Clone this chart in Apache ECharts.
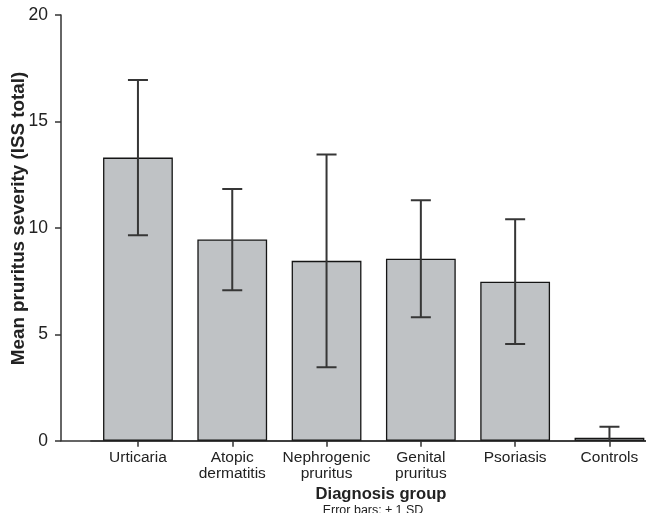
<!DOCTYPE html>
<html>
<head>
<meta charset="utf-8">
<script src="https://cdn.jsdelivr.net/npm/echarts@6/dist/echarts.min.js"></script>
<style>
html,body{margin:0;padding:0;background:#fff;}
#chart{width:646px;height:513px;}
</style>
</head>
<body>
<div id="chart"></div>
<script>
const categories = ['Urticaria', 'Atopic\ndermatitis', 'Nephrogenic\npruritus', 'Genital\npruritus', 'Psoriasis', 'Controls'];
const means = [13.3, 9.45, 8.45, 8.55, 7.47, 0.14];
const sds = [3.65, 2.38, 5.0, 2.75, 2.93, 0.52];
const yTicks = { min: 0, max: 20, interval: 5 };

const FONT = '"Liberation Sans", Arial, sans-serif';
const TEXT = '#222';
const AXIS = '#333';

const errData = means.map((m, i) => [i, m, sds[i]]);

const chart = echarts.init(document.getElementById('chart'), null, { renderer: 'canvas' });
chart.setOption({
  animation: false,
  backgroundColor: '#fff',
  textStyle: { fontFamily: FONT },
  grid: [
    { left: 90.8, right: -10.6, top: 15, bottom: 72.3, containLabel: false, outerBoundsMode: 'none' },
    { left: 61, right: 0, top: 15, bottom: 72.3, containLabel: false, outerBoundsMode: 'none' }
  ],
  xAxis: [
    {
      type: 'category', gridIndex: 0, data: categories,
      axisLine: { show: true, lineStyle: { color: AXIS, width: 1.5 } },
      axisTick: { show: true, alignWithLabel: true, interval: 0, length: 6, lineStyle: { color: AXIS, width: 1.5 } },
      axisLabel: { interval: 0, color: TEXT, fontSize: 15.5, fontFamily: FONT, margin: 9, lineHeight: 16 },
      splitLine: { show: false }
    },
    {
      type: 'value', gridIndex: 1, min: 0, max: 1,
      axisLine: { show: true, onZero: false, lineStyle: { color: AXIS, width: 1.5 } },
      axisTick: { show: false }, axisLabel: { show: false }, splitLine: { show: false }
    }
  ],
  yAxis: [
    {
      type: 'value', gridIndex: 0, min: yTicks.min, max: yTicks.max, interval: yTicks.interval,
      offset: 29.8,
      axisLine: { show: true, lineStyle: { color: AXIS, width: 1.5 } },
      axisTick: { show: true, length: 6, lineStyle: { color: AXIS, width: 1.5 } },
      axisLabel: { color: TEXT, fontSize: 17.5, fontFamily: FONT, margin: 13 },
      splitLine: { show: false }
    },
    { type: 'value', gridIndex: 1, show: false, min: 0, max: 1 }
  ],
  series: [
    {
      type: 'bar', xAxisIndex: 0, yAxisIndex: 0, data: means, barWidth: '74%',
      itemStyle: { color: '#bfc2c5', borderColor: '#151515', borderWidth: 1.3 },
      z: 2
    },
    {
      type: 'custom', xAxisIndex: 0, yAxisIndex: 0, data: errData, clip: true, z: 3,
      renderItem: function (params, api) {
        const x = api.value(0), m = api.value(1), s = api.value(2);
        const top = api.coord([x, m + s]);
        const bot = api.coord([x, m - s]);
        const half = 10;
        const st = { stroke: '#363636', lineWidth: 2 };
        return {
          type: 'group',
          children: [
            { type: 'line', shape: { x1: top[0], y1: top[1], x2: bot[0], y2: bot[1] }, style: st },
            { type: 'line', shape: { x1: top[0] - half, y1: top[1], x2: top[0] + half, y2: top[1] }, style: st },
            { type: 'line', shape: { x1: bot[0] - half, y1: bot[1], x2: bot[0] + half, y2: bot[1] }, style: st }
          ]
        };
      }
    }
  ],
  graphic: [
    {
      type: 'text', x: 19, y: 218.5, rotation: Math.PI / 2,
      style: { text: 'Mean pruritus severity (ISS total)', fill: TEXT, font: 'bold 18.8px ' + FONT, textAlign: 'center', textVerticalAlign: 'middle' }
    },
    {
      type: 'text', x: 381, y: 494,
      style: { text: 'Diagnosis group', fill: TEXT, font: 'bold 16.6px ' + FONT, textAlign: 'center', textVerticalAlign: 'middle' }
    },
    {
      type: 'text', x: 373, y: 511,
      style: { text: 'Error bars: \u00b1 1 SD', fill: TEXT, font: '12.5px ' + FONT, textAlign: 'center', textVerticalAlign: 'middle' }
    }
  ]
});
</script>
</body>
</html>
